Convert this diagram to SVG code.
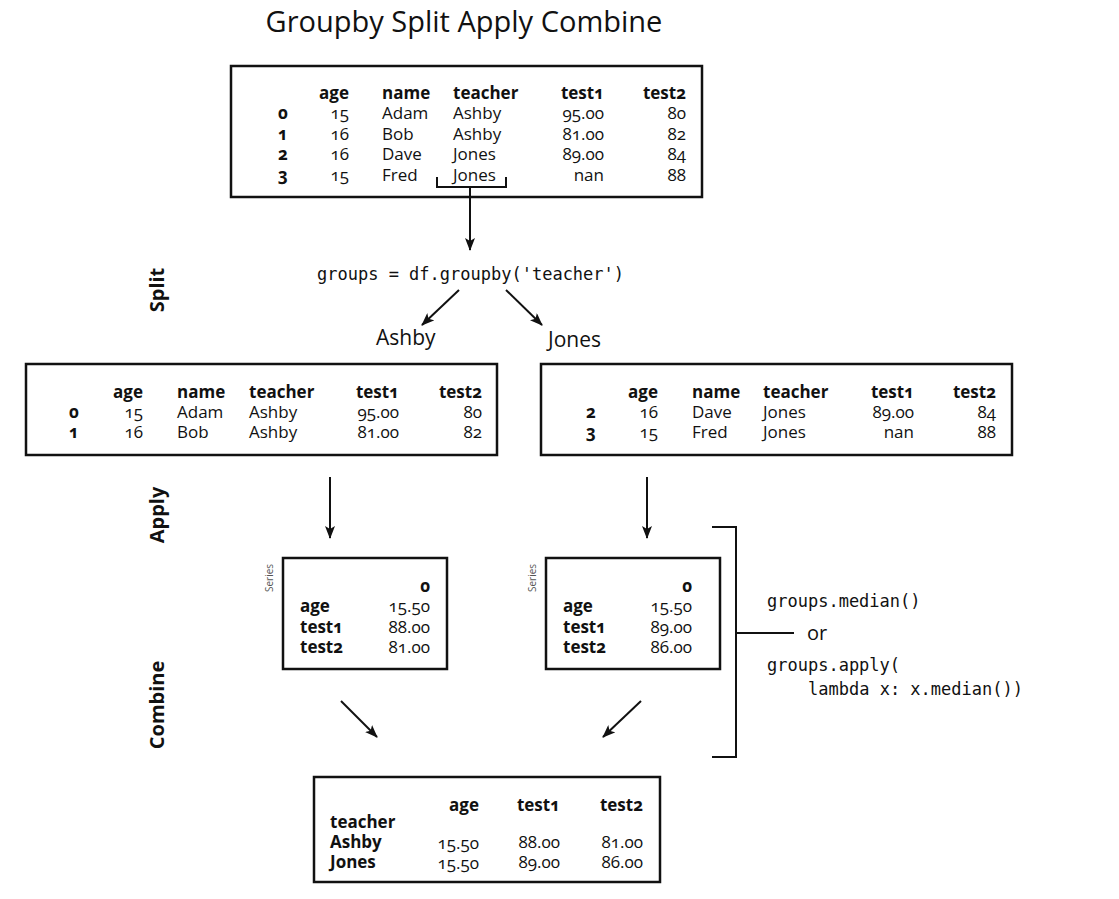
<svg xmlns="http://www.w3.org/2000/svg" width="1119" height="899" viewBox="0 0 1119 899">
<defs>
<marker id="ah" markerWidth="13" markerHeight="10" refX="12" refY="5" orient="auto" markerUnits="userSpaceOnUse">
<path d="M0,0 L13,5 L0,10 L3,5 z" fill="#111"/>
</marker>
<style>
.box{fill:#fff;stroke:#111;stroke-width:2.5}
.ln{fill:none;stroke:#111;stroke-width:2}
text{font-family:"Open Sans","Liberation Sans",sans-serif;fill:#111;font-variant-numeric:oldstyle-nums}
.t{font-size:17px}
.b{font-weight:bold}
.e{text-anchor:end}
.m{text-anchor:middle}
.code{font-family:"DejaVu Sans Mono","Liberation Mono",monospace;font-size:17px;font-variant-numeric:normal}
.side{font-size:20px;font-weight:bold;text-anchor:middle}
.ser{font-size:10px;fill:#555;text-anchor:middle}
</style>
</defs>
<rect width="1119" height="899" fill="#fff"/>
<text x="464" y="32" class="m" style="font-size:29px">Groupby Split Apply Combine</text>

<g id="side-labels">
<text class="side" transform="translate(164,290) rotate(-90)">Split</text>
<text class="side" transform="translate(164,515) rotate(-90)">Apply</text>
<text class="side" transform="translate(164,705) rotate(-90)">Combine</text>
</g>

<g id="df">
<rect class="box" x="231" y="66" width="471" height="131"/>
<g class="t">
<text x="349" y="99" class="b e">age</text><text x="382" y="99" class="b">name</text><text x="453" y="99" class="b">teacher</text><text x="604" y="99" class="b e">test1</text><text x="686" y="99" class="b e">test2</text>
<text x="283" y="119" class="b m">0</text><text x="349" y="119" class="e">15</text><text x="382" y="119">Adam</text><text x="453" y="119">Ashby</text><text x="604" y="119" class="e">95.00</text><text x="686" y="119" class="e">80</text>
<text x="283" y="140" class="b m">1</text><text x="349" y="140" class="e">16</text><text x="382" y="140">Bob</text><text x="453" y="140">Ashby</text><text x="604" y="140" class="e">81.00</text><text x="686" y="140" class="e">82</text>
<text x="283" y="160" class="b m">2</text><text x="349" y="160" class="e">16</text><text x="382" y="160">Dave</text><text x="453" y="160">Jones</text><text x="604" y="160" class="e">89.00</text><text x="686" y="160" class="e">84</text>
<text x="283" y="181" class="b m">3</text><text x="349" y="181" class="e">15</text><text x="382" y="181">Fred</text><text x="453" y="181">Jones</text><text x="604" y="181" class="e">nan</text><text x="686" y="181" class="e">88</text>
</g>
</g>

<g id="groupby-label">
<text x="317" y="280" class="code">groups = df.groupby('teacher')</text>
<text x="376" y="345" style="font-size:21px">Ashby</text>
<text x="548" y="347" style="font-size:21px">Jones</text>
</g>

<g id="ashby-group">
<rect class="box" x="26" y="364" width="471" height="91"/>
<g class="t">
<text x="143" y="398" class="b e">age</text><text x="177" y="398" class="b">name</text><text x="249" y="398" class="b">teacher</text><text x="399" y="398" class="b e">test1</text><text x="482" y="398" class="b e">test2</text>
<text x="74" y="418" class="b m">0</text><text x="143" y="418" class="e">15</text><text x="177" y="418">Adam</text><text x="249" y="418">Ashby</text><text x="399" y="418" class="e">95.00</text><text x="482" y="418" class="e">80</text>
<text x="74" y="438" class="b m">1</text><text x="143" y="438" class="e">16</text><text x="177" y="438">Bob</text><text x="249" y="438">Ashby</text><text x="399" y="438" class="e">81.00</text><text x="482" y="438" class="e">82</text>
</g>
</g>

<g id="jones-group">
<rect class="box" x="541" y="364" width="471" height="91"/>
<g class="t">
<text x="658" y="398" class="b e">age</text><text x="692" y="398" class="b">name</text><text x="763" y="398" class="b">teacher</text><text x="914" y="398" class="b e">test1</text><text x="996" y="398" class="b e">test2</text>
<text x="591" y="418" class="b m">2</text><text x="658" y="418" class="e">16</text><text x="692" y="418">Dave</text><text x="763" y="418">Jones</text><text x="914" y="418" class="e">89.00</text><text x="996" y="418" class="e">84</text>
<text x="591" y="438" class="b m">3</text><text x="658" y="438" class="e">15</text><text x="692" y="438">Fred</text><text x="763" y="438">Jones</text><text x="914" y="438" class="e">nan</text><text x="996" y="438" class="e">88</text>
</g>
</g>

<g id="ashby-series">
<rect class="box" x="283" y="558" width="164" height="111"/>
<text class="ser" transform="translate(273,578) rotate(-90)">Series</text>
<g class="t">
<text x="430" y="592" class="b e">0</text>
<text x="300" y="612" class="b">age</text><text x="430" y="612" class="e">15.50</text>
<text x="300" y="633" class="b">test1</text><text x="430" y="633" class="e">88.00</text>
<text x="300" y="653" class="b">test2</text><text x="430" y="653" class="e">81.00</text>
</g>
</g>

<g id="jones-series">
<rect class="box" x="546" y="558" width="174" height="111"/>
<text class="ser" transform="translate(536,578) rotate(-90)">Series</text>
<g class="t">
<text x="692" y="592" class="b e">0</text>
<text x="563" y="612" class="b">age</text><text x="692" y="612" class="e">15.50</text>
<text x="563" y="633" class="b">test1</text><text x="692" y="633" class="e">89.00</text>
<text x="563" y="653" class="b">test2</text><text x="692" y="653" class="e">86.00</text>
</g>
</g>

<g id="apply-code">
<text x="767" y="607" class="code">groups.median()</text>
<text x="807" y="640" style="font-size:20px">or</text>
<text x="767" y="671" class="code">groups.apply(</text>
<text x="808" y="695" class="code">lambda x: x.median())</text>
</g>

<g id="result">
<rect class="box" x="314" y="777" width="346" height="105"/>
<g class="t">
<text x="479" y="811" class="b e">age</text><text x="560" y="811" class="b e">test1</text><text x="643" y="811" class="b e">test2</text>
<text x="330" y="828" class="b">teacher</text>
<text x="330" y="848" class="b">Ashby</text><text x="479" y="849" class="e">15.50</text><text x="560" y="848" class="e">88.00</text><text x="643" y="848" class="e">81.00</text>
<text x="330" y="868" class="b">Jones</text><text x="479" y="869" class="e">15.50</text><text x="560" y="868" class="e">89.00</text><text x="643" y="868" class="e">86.00</text>
</g>
</g>

<g id="connectors">
<path class="ln" d="M437,177 V187 H506 V177"/>
<line class="ln" x1="470" y1="187" x2="470" y2="250" marker-end="url(#ah)"/>
<line class="ln" x1="459" y1="290" x2="422" y2="325" marker-end="url(#ah)"/>
<line class="ln" x1="506" y1="290" x2="542" y2="325" marker-end="url(#ah)"/>
<line class="ln" x1="330" y1="477" x2="330" y2="538" marker-end="url(#ah)"/>
<line class="ln" x1="647" y1="477" x2="647" y2="538" marker-end="url(#ah)"/>
<line class="ln" x1="341" y1="701" x2="377" y2="737" marker-end="url(#ah)"/>
<line class="ln" x1="641" y1="701" x2="603" y2="737" marker-end="url(#ah)"/>
<path class="ln" d="M712,527 H736 V757 H712 M736,633 H794"/>
</g>
</svg>
